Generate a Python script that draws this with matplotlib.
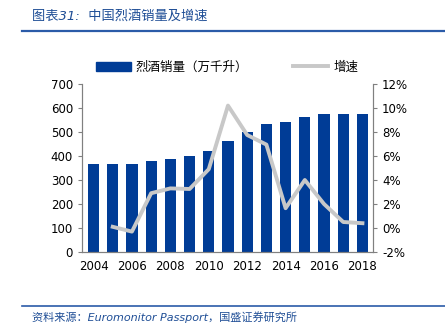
import matplotlib
matplotlib.use("Agg")
import matplotlib.pyplot as plt
from matplotlib.lines import Line2D
from matplotlib.ticker import FuncFormatter

plt.rcParams['font.family'] = ['DejaVu Sans', 'Noto Sans CJK SC']

years = [2004, 2005, 2006, 2007, 2008, 2009, 2010, 2011, 2012, 2013, 2014, 2015, 2016, 2017, 2018]
volume = [368, 368, 367, 378, 389, 401, 421, 462, 499, 532, 540, 562, 574, 575, 577]
growth_years = years[1:]
growth = [0.1, -0.3, 2.9, 3.3, 3.25, 4.9, 10.2, 7.75, 6.95, 1.65, 4.0, 2.0, 0.5, 0.4]
xticks = [2004, 2006, 2008, 2010, 2012, 2014, 2016, 2018]

title = "图表31:  中国烈酒销量及增速"
source = "资料来源：Euromonitor Passport，国盛证券研究所"
bar_label = "烈酒销量（万千升）"
line_label = "增速"

W, H = 445, 335
fig = plt.figure(figsize=(W / 100, H / 100), dpi=100)
ax = fig.add_axes([82 / W, 1 - 252 / H, (373 - 82) / W, (252 - 84) / H])
ax2 = ax.twinx()

bar_color = "#003C96"
line_color = "#C8C8C8"
ax.bar(years, volume, width=0.58, color=bar_color, zorder=2)
ax2.plot(growth_years, growth, color=line_color, lw=2.8, zorder=3)

ax.set_xlim(2003.4, 2018.55)
ax.set_ylim(0, 700)
ax.set_yticks(range(0, 701, 100))
ax2.set_ylim(-2, 12)
ax2.set_yticks(range(-2, 13, 2))
ax2.yaxis.set_major_formatter(FuncFormatter(lambda v, p: f"{int(v)}%"))
ax.set_xticks(xticks)
ax.set_xticks(years, minor=True)

for a in (ax, ax2):
    for s in ("top",):
        a.spines[s].set_visible(False)
    for s in a.spines.values():
        s.set_color("#808080")
        s.set_linewidth(0.8)
    a.tick_params(labelsize=8.5, colors="black", length=3, width=0.8)
    a.tick_params(which="both", color="#808080")
ax.tick_params(axis="x", which="minor", length=3, direction="in")
ax.tick_params(axis="x", which="major", length=0, pad=6)
ax.zorder = 1
ax2.zorder = 2
ax2.patch.set_visible(False)

handles = [plt.Rectangle((0, 0), 1, 1, color=bar_color),
           Line2D([0], [0], color=line_color, lw=2.8)]
fig.legend(handles, [bar_label, line_label], loc="center", bbox_to_anchor=(0.51, 1 - 67 / H),
           ncol=2, frameon=False, columnspacing=3.6, handlelength=2.8,
           handletextpad=0.4, prop={'family': ['Noto Sans CJK SC', 'DejaVu Sans'], 'size': 9})

fig.text(32 / W, 1 - 16 / H, title, color="#1F4E96", fontsize=9.5, style="italic",
         va="center", ha="left", family=['DejaVu Sans', 'Noto Sans CJK SC'])
fig.add_artist(Line2D([22 / W, 1], [1 - 31 / H, 1 - 31 / H], color="#2B5BA8", lw=1.6))
fig.add_artist(Line2D([22 / W, 1], [1 - 306 / H, 1 - 306 / H], color="#2B5BA8", lw=1.2))
fig.text(32 / W, 1 - 317 / H, source, color="#1F4E96", fontsize=8, style="italic",
         va="center", ha="left", family=['DejaVu Sans', 'Noto Sans CJK SC'])

fig.savefig("out.png", dpi=100)
